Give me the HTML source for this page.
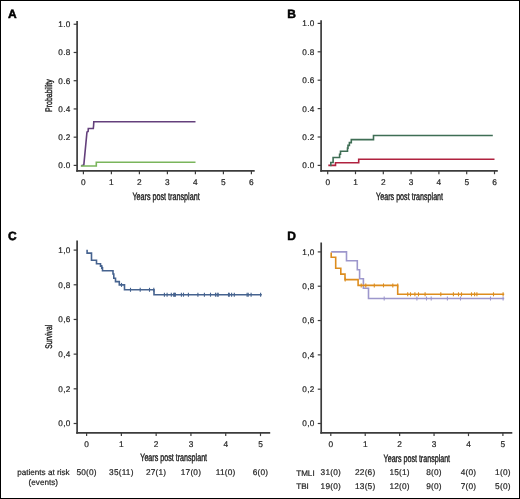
<!DOCTYPE html>
<html><head><meta charset="utf-8"><style>
html,body{margin:0;padding:0;background:#fff;width:520px;height:499px;overflow:hidden;font-family:"Liberation Sans", sans-serif;}
</style></head><body>
<svg width="520" height="499" viewBox="0 0 520 499" style="position:absolute;left:0;top:0;will-change:transform">
<g font-family='"Liberation Sans", sans-serif' text-rendering="geometricPrecision">
<rect x="0.5" y="0.5" width="519" height="498" fill="#fff" stroke="#000" stroke-width="1"/>
<text x="8.0" y="18.0" font-size="12" text-anchor="start" font-weight="bold" fill="#000" stroke="#000" stroke-width="0.5" >A</text>
<text x="287.2" y="17.9" font-size="12" text-anchor="start" font-weight="bold" fill="#000" stroke="#000" stroke-width="0.5" >B</text>
<text x="8.0" y="240.2" font-size="12" text-anchor="start" font-weight="bold" fill="#000" stroke="#000" stroke-width="0.5" >C</text>
<text x="287.2" y="239.8" font-size="12" text-anchor="start" font-weight="bold" fill="#000" stroke="#000" stroke-width="0.5" >D</text>
<line x1="77.1" y1="21.0" x2="77.1" y2="171.75" stroke="#3c3c3c" stroke-width="1.7" stroke-linecap="butt"/>
<line x1="76.25" y1="170.9" x2="254.7" y2="170.9" stroke="#3c3c3c" stroke-width="1.7" stroke-linecap="butt"/>
<line x1="73.65" y1="165.4" x2="77.1" y2="165.4" stroke="#3c3c3c" stroke-width="1.2" stroke-linecap="butt"/>
<text x="70.8" y="168.3" font-size="8.2" text-anchor="end" font-weight="normal" fill="#1e1e1e" stroke="#1e1e1e" stroke-width="0.2" letter-spacing="0.4">0.0</text>
<line x1="73.65" y1="137.17" x2="77.1" y2="137.17" stroke="#3c3c3c" stroke-width="1.2" stroke-linecap="butt"/>
<text x="70.8" y="140.07" font-size="8.2" text-anchor="end" font-weight="normal" fill="#1e1e1e" stroke="#1e1e1e" stroke-width="0.2" letter-spacing="0.4">0.2</text>
<line x1="73.65" y1="108.94" x2="77.1" y2="108.94" stroke="#3c3c3c" stroke-width="1.2" stroke-linecap="butt"/>
<text x="70.8" y="111.84" font-size="8.2" text-anchor="end" font-weight="normal" fill="#1e1e1e" stroke="#1e1e1e" stroke-width="0.2" letter-spacing="0.4">0.4</text>
<line x1="73.65" y1="80.71" x2="77.1" y2="80.71" stroke="#3c3c3c" stroke-width="1.2" stroke-linecap="butt"/>
<text x="70.8" y="83.61" font-size="8.2" text-anchor="end" font-weight="normal" fill="#1e1e1e" stroke="#1e1e1e" stroke-width="0.2" letter-spacing="0.4">0.6</text>
<line x1="73.65" y1="52.48" x2="77.1" y2="52.48" stroke="#3c3c3c" stroke-width="1.2" stroke-linecap="butt"/>
<text x="70.8" y="55.38" font-size="8.2" text-anchor="end" font-weight="normal" fill="#1e1e1e" stroke="#1e1e1e" stroke-width="0.2" letter-spacing="0.4">0.8</text>
<line x1="73.65" y1="24.25" x2="77.1" y2="24.25" stroke="#3c3c3c" stroke-width="1.2" stroke-linecap="butt"/>
<text x="70.8" y="27.15" font-size="8.2" text-anchor="end" font-weight="normal" fill="#1e1e1e" stroke="#1e1e1e" stroke-width="0.2" letter-spacing="0.4">1.0</text>
<line x1="83.4" y1="170.9" x2="83.4" y2="174.2" stroke="#3c3c3c" stroke-width="1.2" stroke-linecap="butt"/>
<text x="83.4" y="185.2" font-size="8.3" text-anchor="middle" font-weight="normal" fill="#1e1e1e" stroke="#1e1e1e" stroke-width="0.2" >0</text>
<line x1="111.4" y1="170.9" x2="111.4" y2="174.2" stroke="#3c3c3c" stroke-width="1.2" stroke-linecap="butt"/>
<text x="111.4" y="185.2" font-size="8.3" text-anchor="middle" font-weight="normal" fill="#1e1e1e" stroke="#1e1e1e" stroke-width="0.2" >1</text>
<line x1="139.4" y1="170.9" x2="139.4" y2="174.2" stroke="#3c3c3c" stroke-width="1.2" stroke-linecap="butt"/>
<text x="139.4" y="185.2" font-size="8.3" text-anchor="middle" font-weight="normal" fill="#1e1e1e" stroke="#1e1e1e" stroke-width="0.2" >2</text>
<line x1="167.4" y1="170.9" x2="167.4" y2="174.2" stroke="#3c3c3c" stroke-width="1.2" stroke-linecap="butt"/>
<text x="167.4" y="185.2" font-size="8.3" text-anchor="middle" font-weight="normal" fill="#1e1e1e" stroke="#1e1e1e" stroke-width="0.2" >3</text>
<line x1="195.4" y1="170.9" x2="195.4" y2="174.2" stroke="#3c3c3c" stroke-width="1.2" stroke-linecap="butt"/>
<text x="195.4" y="185.2" font-size="8.3" text-anchor="middle" font-weight="normal" fill="#1e1e1e" stroke="#1e1e1e" stroke-width="0.2" >4</text>
<line x1="223.4" y1="170.9" x2="223.4" y2="174.2" stroke="#3c3c3c" stroke-width="1.2" stroke-linecap="butt"/>
<text x="223.4" y="185.2" font-size="8.3" text-anchor="middle" font-weight="normal" fill="#1e1e1e" stroke="#1e1e1e" stroke-width="0.2" >5</text>
<line x1="251.4" y1="170.9" x2="251.4" y2="174.2" stroke="#3c3c3c" stroke-width="1.2" stroke-linecap="butt"/>
<text x="251.4" y="185.2" font-size="8.3" text-anchor="middle" font-weight="normal" fill="#1e1e1e" stroke="#1e1e1e" stroke-width="0.2" >6</text>
<line x1="321.1" y1="20.25" x2="321.1" y2="171.75" stroke="#3c3c3c" stroke-width="1.7" stroke-linecap="butt"/>
<line x1="320.25" y1="170.9" x2="497.8" y2="170.9" stroke="#3c3c3c" stroke-width="1.7" stroke-linecap="butt"/>
<line x1="317.65" y1="165.4" x2="321.1" y2="165.4" stroke="#3c3c3c" stroke-width="1.2" stroke-linecap="butt"/>
<text x="314.8" y="168.3" font-size="8.2" text-anchor="end" font-weight="normal" fill="#1e1e1e" stroke="#1e1e1e" stroke-width="0.2" letter-spacing="0.4">0.0</text>
<line x1="317.65" y1="137.0" x2="321.1" y2="137.0" stroke="#3c3c3c" stroke-width="1.2" stroke-linecap="butt"/>
<text x="314.8" y="139.9" font-size="8.2" text-anchor="end" font-weight="normal" fill="#1e1e1e" stroke="#1e1e1e" stroke-width="0.2" letter-spacing="0.4">0.2</text>
<line x1="317.65" y1="108.6" x2="321.1" y2="108.6" stroke="#3c3c3c" stroke-width="1.2" stroke-linecap="butt"/>
<text x="314.8" y="111.5" font-size="8.2" text-anchor="end" font-weight="normal" fill="#1e1e1e" stroke="#1e1e1e" stroke-width="0.2" letter-spacing="0.4">0.4</text>
<line x1="317.65" y1="80.2" x2="321.1" y2="80.2" stroke="#3c3c3c" stroke-width="1.2" stroke-linecap="butt"/>
<text x="314.8" y="83.1" font-size="8.2" text-anchor="end" font-weight="normal" fill="#1e1e1e" stroke="#1e1e1e" stroke-width="0.2" letter-spacing="0.4">0.6</text>
<line x1="317.65" y1="51.8" x2="321.1" y2="51.8" stroke="#3c3c3c" stroke-width="1.2" stroke-linecap="butt"/>
<text x="314.8" y="54.7" font-size="8.2" text-anchor="end" font-weight="normal" fill="#1e1e1e" stroke="#1e1e1e" stroke-width="0.2" letter-spacing="0.4">0.8</text>
<line x1="317.65" y1="23.4" x2="321.1" y2="23.4" stroke="#3c3c3c" stroke-width="1.2" stroke-linecap="butt"/>
<text x="314.8" y="26.3" font-size="8.2" text-anchor="end" font-weight="normal" fill="#1e1e1e" stroke="#1e1e1e" stroke-width="0.2" letter-spacing="0.4">1.0</text>
<line x1="327.7" y1="170.9" x2="327.7" y2="174.2" stroke="#3c3c3c" stroke-width="1.2" stroke-linecap="butt"/>
<text x="327.7" y="185.2" font-size="8.3" text-anchor="middle" font-weight="normal" fill="#1e1e1e" stroke="#1e1e1e" stroke-width="0.2" >0</text>
<line x1="355.5" y1="170.9" x2="355.5" y2="174.2" stroke="#3c3c3c" stroke-width="1.2" stroke-linecap="butt"/>
<text x="355.5" y="185.2" font-size="8.3" text-anchor="middle" font-weight="normal" fill="#1e1e1e" stroke="#1e1e1e" stroke-width="0.2" >1</text>
<line x1="383.3" y1="170.9" x2="383.3" y2="174.2" stroke="#3c3c3c" stroke-width="1.2" stroke-linecap="butt"/>
<text x="383.3" y="185.2" font-size="8.3" text-anchor="middle" font-weight="normal" fill="#1e1e1e" stroke="#1e1e1e" stroke-width="0.2" >2</text>
<line x1="411.1" y1="170.9" x2="411.1" y2="174.2" stroke="#3c3c3c" stroke-width="1.2" stroke-linecap="butt"/>
<text x="411.1" y="185.2" font-size="8.3" text-anchor="middle" font-weight="normal" fill="#1e1e1e" stroke="#1e1e1e" stroke-width="0.2" >3</text>
<line x1="438.9" y1="170.9" x2="438.9" y2="174.2" stroke="#3c3c3c" stroke-width="1.2" stroke-linecap="butt"/>
<text x="438.9" y="185.2" font-size="8.3" text-anchor="middle" font-weight="normal" fill="#1e1e1e" stroke="#1e1e1e" stroke-width="0.2" >4</text>
<line x1="466.7" y1="170.9" x2="466.7" y2="174.2" stroke="#3c3c3c" stroke-width="1.2" stroke-linecap="butt"/>
<text x="466.7" y="185.2" font-size="8.3" text-anchor="middle" font-weight="normal" fill="#1e1e1e" stroke="#1e1e1e" stroke-width="0.2" >5</text>
<line x1="494.5" y1="170.9" x2="494.5" y2="174.2" stroke="#3c3c3c" stroke-width="1.2" stroke-linecap="butt"/>
<text x="494.5" y="185.2" font-size="8.3" text-anchor="middle" font-weight="normal" fill="#1e1e1e" stroke="#1e1e1e" stroke-width="0.2" >6</text>
<line x1="77.1" y1="240.6" x2="77.1" y2="433.65" stroke="#3c3c3c" stroke-width="1.7" stroke-linecap="butt"/>
<line x1="76.25" y1="432.8" x2="270.2" y2="432.8" stroke="#3c3c3c" stroke-width="1.7" stroke-linecap="butt"/>
<line x1="73.65" y1="423.5" x2="77.1" y2="423.5" stroke="#3c3c3c" stroke-width="1.2" stroke-linecap="butt"/>
<text x="70.8" y="426.4" font-size="8.2" text-anchor="end" font-weight="normal" fill="#1e1e1e" stroke="#1e1e1e" stroke-width="0.2" letter-spacing="0.4">0,0</text>
<line x1="73.65" y1="388.82" x2="77.1" y2="388.82" stroke="#3c3c3c" stroke-width="1.2" stroke-linecap="butt"/>
<text x="70.8" y="391.72" font-size="8.2" text-anchor="end" font-weight="normal" fill="#1e1e1e" stroke="#1e1e1e" stroke-width="0.2" letter-spacing="0.4">0,2</text>
<line x1="73.65" y1="354.14" x2="77.1" y2="354.14" stroke="#3c3c3c" stroke-width="1.2" stroke-linecap="butt"/>
<text x="70.8" y="357.04" font-size="8.2" text-anchor="end" font-weight="normal" fill="#1e1e1e" stroke="#1e1e1e" stroke-width="0.2" letter-spacing="0.4">0,4</text>
<line x1="73.65" y1="319.46" x2="77.1" y2="319.46" stroke="#3c3c3c" stroke-width="1.2" stroke-linecap="butt"/>
<text x="70.8" y="322.36" font-size="8.2" text-anchor="end" font-weight="normal" fill="#1e1e1e" stroke="#1e1e1e" stroke-width="0.2" letter-spacing="0.4">0,6</text>
<line x1="73.65" y1="284.78" x2="77.1" y2="284.78" stroke="#3c3c3c" stroke-width="1.2" stroke-linecap="butt"/>
<text x="70.8" y="287.68" font-size="8.2" text-anchor="end" font-weight="normal" fill="#1e1e1e" stroke="#1e1e1e" stroke-width="0.2" letter-spacing="0.4">0,8</text>
<line x1="73.65" y1="250.1" x2="77.1" y2="250.1" stroke="#3c3c3c" stroke-width="1.2" stroke-linecap="butt"/>
<text x="70.8" y="253.0" font-size="8.2" text-anchor="end" font-weight="normal" fill="#1e1e1e" stroke="#1e1e1e" stroke-width="0.2" letter-spacing="0.4">1,0</text>
<line x1="86.6" y1="432.8" x2="86.6" y2="436.1" stroke="#3c3c3c" stroke-width="1.2" stroke-linecap="butt"/>
<text x="86.6" y="447.0" font-size="8.3" text-anchor="middle" font-weight="normal" fill="#1e1e1e" stroke="#1e1e1e" stroke-width="0.2" >0</text>
<line x1="121.38" y1="432.8" x2="121.38" y2="436.1" stroke="#3c3c3c" stroke-width="1.2" stroke-linecap="butt"/>
<text x="121.38" y="447.0" font-size="8.3" text-anchor="middle" font-weight="normal" fill="#1e1e1e" stroke="#1e1e1e" stroke-width="0.2" >1</text>
<line x1="156.16" y1="432.8" x2="156.16" y2="436.1" stroke="#3c3c3c" stroke-width="1.2" stroke-linecap="butt"/>
<text x="156.16" y="447.0" font-size="8.3" text-anchor="middle" font-weight="normal" fill="#1e1e1e" stroke="#1e1e1e" stroke-width="0.2" >2</text>
<line x1="190.94" y1="432.8" x2="190.94" y2="436.1" stroke="#3c3c3c" stroke-width="1.2" stroke-linecap="butt"/>
<text x="190.94" y="447.0" font-size="8.3" text-anchor="middle" font-weight="normal" fill="#1e1e1e" stroke="#1e1e1e" stroke-width="0.2" >3</text>
<line x1="225.72" y1="432.8" x2="225.72" y2="436.1" stroke="#3c3c3c" stroke-width="1.2" stroke-linecap="butt"/>
<text x="225.72" y="447.0" font-size="8.3" text-anchor="middle" font-weight="normal" fill="#1e1e1e" stroke="#1e1e1e" stroke-width="0.2" >4</text>
<line x1="260.5" y1="432.8" x2="260.5" y2="436.1" stroke="#3c3c3c" stroke-width="1.2" stroke-linecap="butt"/>
<text x="260.5" y="447.0" font-size="8.3" text-anchor="middle" font-weight="normal" fill="#1e1e1e" stroke="#1e1e1e" stroke-width="0.2" >5</text>
<line x1="321.2" y1="242.5" x2="321.2" y2="433.65" stroke="#3c3c3c" stroke-width="1.7" stroke-linecap="butt"/>
<line x1="320.35" y1="432.8" x2="512.3" y2="432.8" stroke="#3c3c3c" stroke-width="1.7" stroke-linecap="butt"/>
<line x1="317.75" y1="423.5" x2="321.2" y2="423.5" stroke="#3c3c3c" stroke-width="1.2" stroke-linecap="butt"/>
<text x="314.8" y="426.4" font-size="8.2" text-anchor="end" font-weight="normal" fill="#1e1e1e" stroke="#1e1e1e" stroke-width="0.2" letter-spacing="0.4">0,0</text>
<line x1="317.75" y1="389.18" x2="321.2" y2="389.18" stroke="#3c3c3c" stroke-width="1.2" stroke-linecap="butt"/>
<text x="314.8" y="392.08" font-size="8.2" text-anchor="end" font-weight="normal" fill="#1e1e1e" stroke="#1e1e1e" stroke-width="0.2" letter-spacing="0.4">0,2</text>
<line x1="317.75" y1="354.86" x2="321.2" y2="354.86" stroke="#3c3c3c" stroke-width="1.2" stroke-linecap="butt"/>
<text x="314.8" y="357.76" font-size="8.2" text-anchor="end" font-weight="normal" fill="#1e1e1e" stroke="#1e1e1e" stroke-width="0.2" letter-spacing="0.4">0,4</text>
<line x1="317.75" y1="320.54" x2="321.2" y2="320.54" stroke="#3c3c3c" stroke-width="1.2" stroke-linecap="butt"/>
<text x="314.8" y="323.44" font-size="8.2" text-anchor="end" font-weight="normal" fill="#1e1e1e" stroke="#1e1e1e" stroke-width="0.2" letter-spacing="0.4">0,6</text>
<line x1="317.75" y1="286.22" x2="321.2" y2="286.22" stroke="#3c3c3c" stroke-width="1.2" stroke-linecap="butt"/>
<text x="314.8" y="289.12" font-size="8.2" text-anchor="end" font-weight="normal" fill="#1e1e1e" stroke="#1e1e1e" stroke-width="0.2" letter-spacing="0.4">0,8</text>
<line x1="317.75" y1="251.9" x2="321.2" y2="251.9" stroke="#3c3c3c" stroke-width="1.2" stroke-linecap="butt"/>
<text x="314.8" y="254.8" font-size="8.2" text-anchor="end" font-weight="normal" fill="#1e1e1e" stroke="#1e1e1e" stroke-width="0.2" letter-spacing="0.4">1,0</text>
<line x1="330.8" y1="432.8" x2="330.8" y2="436.1" stroke="#3c3c3c" stroke-width="1.2" stroke-linecap="butt"/>
<text x="330.8" y="447.0" font-size="8.3" text-anchor="middle" font-weight="normal" fill="#1e1e1e" stroke="#1e1e1e" stroke-width="0.2" >0</text>
<line x1="365.22" y1="432.8" x2="365.22" y2="436.1" stroke="#3c3c3c" stroke-width="1.2" stroke-linecap="butt"/>
<text x="365.22" y="447.0" font-size="8.3" text-anchor="middle" font-weight="normal" fill="#1e1e1e" stroke="#1e1e1e" stroke-width="0.2" >1</text>
<line x1="399.64" y1="432.8" x2="399.64" y2="436.1" stroke="#3c3c3c" stroke-width="1.2" stroke-linecap="butt"/>
<text x="399.64" y="447.0" font-size="8.3" text-anchor="middle" font-weight="normal" fill="#1e1e1e" stroke="#1e1e1e" stroke-width="0.2" >2</text>
<line x1="434.06" y1="432.8" x2="434.06" y2="436.1" stroke="#3c3c3c" stroke-width="1.2" stroke-linecap="butt"/>
<text x="434.06" y="447.0" font-size="8.3" text-anchor="middle" font-weight="normal" fill="#1e1e1e" stroke="#1e1e1e" stroke-width="0.2" >3</text>
<line x1="468.48" y1="432.8" x2="468.48" y2="436.1" stroke="#3c3c3c" stroke-width="1.2" stroke-linecap="butt"/>
<text x="468.48" y="447.0" font-size="8.3" text-anchor="middle" font-weight="normal" fill="#1e1e1e" stroke="#1e1e1e" stroke-width="0.2" >4</text>
<line x1="502.9" y1="432.8" x2="502.9" y2="436.1" stroke="#3c3c3c" stroke-width="1.2" stroke-linecap="butt"/>
<text x="502.9" y="447.0" font-size="8.3" text-anchor="middle" font-weight="normal" fill="#1e1e1e" stroke="#1e1e1e" stroke-width="0.2" >5</text>
<text x="132.4" y="199.5" font-size="10.6" fill="#1e1e1e" stroke="#1e1e1e" stroke-width="0.4" textLength="67.3" lengthAdjust="spacingAndGlyphs">Years post transplant</text>
<text x="376.1" y="199.6" font-size="10.6" fill="#1e1e1e" stroke="#1e1e1e" stroke-width="0.4" textLength="67.0" lengthAdjust="spacingAndGlyphs">Years post transplant</text>
<text x="140.3" y="461.3" font-size="10.6" fill="#1e1e1e" stroke="#1e1e1e" stroke-width="0.4" textLength="66.8" lengthAdjust="spacingAndGlyphs">Years post transplant</text>
<text x="383.6" y="461.5" font-size="10.6" fill="#1e1e1e" stroke="#1e1e1e" stroke-width="0.4" textLength="66.5" lengthAdjust="spacingAndGlyphs">Years post transplant</text>
<text transform="translate(51.7,111.9) rotate(-90)" x="0" y="0" font-size="9.6" fill="#1e1e1e" stroke="#1e1e1e" stroke-width="0.4" textLength="32.6" lengthAdjust="spacingAndGlyphs">Probability</text>
<text transform="translate(52.1,348.7) rotate(-90)" x="0" y="0" font-size="9.6" fill="#1e1e1e" stroke="#1e1e1e" stroke-width="0.4" textLength="23.9" lengthAdjust="spacingAndGlyphs">Survival</text>
<polyline points="81.20,165.80 83.80,165.10 86.70,134.80 87.00,132.00 88.10,131.50 88.30,128.50 93.30,128.50 93.60,125.50 93.80,121.80 195.50,121.80" fill="none" stroke="#64407c" stroke-width="1.6" stroke-linejoin="miter" stroke-linecap="butt"/>
<polyline points="80.80,166.00 96.30,166.00 96.30,162.20 195.50,162.20" fill="none" stroke="#7ab55c" stroke-width="1.6" stroke-linejoin="miter" stroke-linecap="butt"/>
<polyline points="328.30,165.40 335.50,165.40 335.50,162.70 358.70,162.70 358.70,159.20 494.50,159.20" fill="none" stroke="#b0223f" stroke-width="1.6" stroke-linejoin="miter" stroke-linecap="butt"/>
<polyline points="330.20,165.40 330.80,165.40 330.80,162.50 333.10,162.50 333.10,157.50 339.60,157.50 339.60,154.30 340.50,154.30 340.50,151.20 347.50,151.20 347.50,148.10 348.00,148.10 348.00,145.40 349.40,145.40 349.40,142.60 351.30,142.60 351.30,139.60 373.50,139.60 373.50,135.50 492.80,135.50" fill="none" stroke="#3f6e55" stroke-width="1.6" stroke-linejoin="miter" stroke-linecap="butt"/>
<polyline points="87.10,249.80 87.10,253.10 91.50,253.10 91.50,260.30 96.50,260.30 96.50,263.70 100.50,263.70 100.50,266.10 101.80,266.10 101.80,267.90 102.50,267.90 102.50,270.80 113.00,270.80 113.00,274.00 113.80,274.00 113.80,278.20 115.50,278.20 115.50,281.60 119.30,281.60 119.30,284.90 124.50,284.90 124.50,289.80 154.00,289.80 154.00,294.70 261.80,294.70" fill="none" stroke="#46638f" stroke-width="1.6" stroke-linejoin="miter" stroke-linecap="butt"/>
<line x1="101.5" y1="265.0" x2="101.5" y2="269.0" stroke="#46638f" stroke-width="1.1" stroke-linecap="butt"/>
<line x1="121.5" y1="282.9" x2="121.5" y2="286.9" stroke="#46638f" stroke-width="1.1" stroke-linecap="butt"/>
<line x1="130.5" y1="287.8" x2="130.5" y2="291.8" stroke="#46638f" stroke-width="1.1" stroke-linecap="butt"/>
<line x1="140.2" y1="287.8" x2="140.2" y2="291.8" stroke="#46638f" stroke-width="1.1" stroke-linecap="butt"/>
<line x1="149.5" y1="287.8" x2="149.5" y2="291.8" stroke="#46638f" stroke-width="1.1" stroke-linecap="butt"/>
<line x1="153.8" y1="287.8" x2="153.8" y2="291.8" stroke="#46638f" stroke-width="1.1" stroke-linecap="butt"/>
<line x1="164.4" y1="292.7" x2="164.4" y2="296.7" stroke="#46638f" stroke-width="1.1" stroke-linecap="butt"/>
<line x1="167.1" y1="292.7" x2="167.1" y2="296.7" stroke="#46638f" stroke-width="1.1" stroke-linecap="butt"/>
<line x1="171.3" y1="292.7" x2="171.3" y2="296.7" stroke="#46638f" stroke-width="1.1" stroke-linecap="butt"/>
<line x1="173.7" y1="292.7" x2="173.7" y2="296.7" stroke="#46638f" stroke-width="1.1" stroke-linecap="butt"/>
<line x1="174.5" y1="292.7" x2="174.5" y2="296.7" stroke="#46638f" stroke-width="1.1" stroke-linecap="butt"/>
<line x1="175.4" y1="292.7" x2="175.4" y2="296.7" stroke="#46638f" stroke-width="1.1" stroke-linecap="butt"/>
<line x1="181.4" y1="292.7" x2="181.4" y2="296.7" stroke="#46638f" stroke-width="1.1" stroke-linecap="butt"/>
<line x1="183.5" y1="292.7" x2="183.5" y2="296.7" stroke="#46638f" stroke-width="1.1" stroke-linecap="butt"/>
<line x1="188.4" y1="292.7" x2="188.4" y2="296.7" stroke="#46638f" stroke-width="1.1" stroke-linecap="butt"/>
<line x1="197.9" y1="292.7" x2="197.9" y2="296.7" stroke="#46638f" stroke-width="1.1" stroke-linecap="butt"/>
<line x1="204.4" y1="292.7" x2="204.4" y2="296.7" stroke="#46638f" stroke-width="1.1" stroke-linecap="butt"/>
<line x1="210.5" y1="292.7" x2="210.5" y2="296.7" stroke="#46638f" stroke-width="1.1" stroke-linecap="butt"/>
<line x1="215.5" y1="292.7" x2="215.5" y2="296.7" stroke="#46638f" stroke-width="1.1" stroke-linecap="butt"/>
<line x1="217.2" y1="292.7" x2="217.2" y2="296.7" stroke="#46638f" stroke-width="1.1" stroke-linecap="butt"/>
<line x1="218.2" y1="292.7" x2="218.2" y2="296.7" stroke="#46638f" stroke-width="1.1" stroke-linecap="butt"/>
<line x1="228.5" y1="292.7" x2="228.5" y2="296.7" stroke="#46638f" stroke-width="1.1" stroke-linecap="butt"/>
<line x1="229.3" y1="292.7" x2="229.3" y2="296.7" stroke="#46638f" stroke-width="1.1" stroke-linecap="butt"/>
<line x1="231.6" y1="292.7" x2="231.6" y2="296.7" stroke="#46638f" stroke-width="1.1" stroke-linecap="butt"/>
<line x1="234.3" y1="292.7" x2="234.3" y2="296.7" stroke="#46638f" stroke-width="1.1" stroke-linecap="butt"/>
<line x1="247.1" y1="292.7" x2="247.1" y2="296.7" stroke="#46638f" stroke-width="1.1" stroke-linecap="butt"/>
<line x1="248.2" y1="292.7" x2="248.2" y2="296.7" stroke="#46638f" stroke-width="1.1" stroke-linecap="butt"/>
<line x1="251.1" y1="292.7" x2="251.1" y2="296.7" stroke="#46638f" stroke-width="1.1" stroke-linecap="butt"/>
<line x1="260.6" y1="292.7" x2="260.6" y2="296.7" stroke="#46638f" stroke-width="1.1" stroke-linecap="butt"/>
<polyline points="331.20,251.90 346.50,251.90 346.50,260.80 357.30,260.80 357.30,269.80 359.60,269.80 359.60,278.70 363.40,278.70 363.40,288.20 368.50,288.20 368.50,298.50 504.20,298.50" fill="none" stroke="#9d97cc" stroke-width="1.6" stroke-linejoin="miter" stroke-linecap="butt"/>
<line x1="384.2" y1="296.5" x2="384.2" y2="300.5" stroke="#9d97cc" stroke-width="1.1" stroke-linecap="butt"/>
<line x1="416.9" y1="296.5" x2="416.9" y2="300.5" stroke="#9d97cc" stroke-width="1.1" stroke-linecap="butt"/>
<line x1="426.5" y1="296.5" x2="426.5" y2="300.5" stroke="#9d97cc" stroke-width="1.1" stroke-linecap="butt"/>
<line x1="431.2" y1="296.5" x2="431.2" y2="300.5" stroke="#9d97cc" stroke-width="1.1" stroke-linecap="butt"/>
<line x1="447.4" y1="296.5" x2="447.4" y2="300.5" stroke="#9d97cc" stroke-width="1.1" stroke-linecap="butt"/>
<line x1="460.5" y1="296.5" x2="460.5" y2="300.5" stroke="#9d97cc" stroke-width="1.1" stroke-linecap="butt"/>
<line x1="490.5" y1="296.5" x2="490.5" y2="300.5" stroke="#9d97cc" stroke-width="1.1" stroke-linecap="butt"/>
<line x1="503.1" y1="296.5" x2="503.1" y2="300.5" stroke="#9d97cc" stroke-width="1.1" stroke-linecap="butt"/>
<polyline points="331.20,252.50 331.20,257.30 335.70,257.30 335.70,268.20 340.80,268.20 340.80,274.10 345.00,274.10 345.00,279.60 358.10,279.60 358.10,285.40 397.70,285.40 397.70,294.30 504.20,294.30" fill="none" stroke="#dd8d1e" stroke-width="1.6" stroke-linejoin="miter" stroke-linecap="butt"/>
<line x1="345.2" y1="277.6" x2="345.2" y2="281.6" stroke="#dd8d1e" stroke-width="1.1" stroke-linecap="butt"/>
<line x1="361.2" y1="283.4" x2="361.2" y2="287.4" stroke="#dd8d1e" stroke-width="1.1" stroke-linecap="butt"/>
<line x1="365.8" y1="283.4" x2="365.8" y2="287.4" stroke="#dd8d1e" stroke-width="1.1" stroke-linecap="butt"/>
<line x1="374.3" y1="283.4" x2="374.3" y2="287.4" stroke="#dd8d1e" stroke-width="1.1" stroke-linecap="butt"/>
<line x1="383.5" y1="283.4" x2="383.5" y2="287.4" stroke="#dd8d1e" stroke-width="1.1" stroke-linecap="butt"/>
<line x1="392.8" y1="283.4" x2="392.8" y2="287.4" stroke="#dd8d1e" stroke-width="1.1" stroke-linecap="butt"/>
<line x1="397.7" y1="283.4" x2="397.7" y2="287.4" stroke="#dd8d1e" stroke-width="1.1" stroke-linecap="butt"/>
<line x1="407.7" y1="292.3" x2="407.7" y2="296.3" stroke="#dd8d1e" stroke-width="1.1" stroke-linecap="butt"/>
<line x1="410.5" y1="292.3" x2="410.5" y2="296.3" stroke="#dd8d1e" stroke-width="1.1" stroke-linecap="butt"/>
<line x1="414.9" y1="292.3" x2="414.9" y2="296.3" stroke="#dd8d1e" stroke-width="1.1" stroke-linecap="butt"/>
<line x1="418.5" y1="292.3" x2="418.5" y2="296.3" stroke="#dd8d1e" stroke-width="1.1" stroke-linecap="butt"/>
<line x1="425.1" y1="292.3" x2="425.1" y2="296.3" stroke="#dd8d1e" stroke-width="1.1" stroke-linecap="butt"/>
<line x1="440.8" y1="292.3" x2="440.8" y2="296.3" stroke="#dd8d1e" stroke-width="1.1" stroke-linecap="butt"/>
<line x1="453.4" y1="292.3" x2="453.4" y2="296.3" stroke="#dd8d1e" stroke-width="1.1" stroke-linecap="butt"/>
<line x1="458.5" y1="292.3" x2="458.5" y2="296.3" stroke="#dd8d1e" stroke-width="1.1" stroke-linecap="butt"/>
<line x1="461.5" y1="292.3" x2="461.5" y2="296.3" stroke="#dd8d1e" stroke-width="1.1" stroke-linecap="butt"/>
<line x1="471.5" y1="292.3" x2="471.5" y2="296.3" stroke="#dd8d1e" stroke-width="1.1" stroke-linecap="butt"/>
<line x1="474.6" y1="292.3" x2="474.6" y2="296.3" stroke="#dd8d1e" stroke-width="1.1" stroke-linecap="butt"/>
<line x1="476.9" y1="292.3" x2="476.9" y2="296.3" stroke="#dd8d1e" stroke-width="1.1" stroke-linecap="butt"/>
<line x1="493.5" y1="292.3" x2="493.5" y2="296.3" stroke="#dd8d1e" stroke-width="1.1" stroke-linecap="butt"/>
<line x1="503.1" y1="292.3" x2="503.1" y2="296.3" stroke="#dd8d1e" stroke-width="1.1" stroke-linecap="butt"/>
<text x="69.6" y="475.0" font-size="8.15" text-anchor="end" font-weight="normal" fill="#1e1e1e" stroke="#1e1e1e" stroke-width="0.2" >patients at risk</text>
<text x="43.3" y="485.4" font-size="8.15" text-anchor="middle" font-weight="normal" fill="#1e1e1e" stroke="#1e1e1e" stroke-width="0.2" >(events)</text>
<text x="86.6" y="475.0" font-size="8.3" text-anchor="middle" font-weight="normal" fill="#1e1e1e" stroke="#1e1e1e" stroke-width="0.2" letter-spacing="0.2">50(0)</text>
<text x="121.38" y="475.0" font-size="8.3" text-anchor="middle" font-weight="normal" fill="#1e1e1e" stroke="#1e1e1e" stroke-width="0.2" letter-spacing="0.2">35(11)</text>
<text x="156.16" y="475.0" font-size="8.3" text-anchor="middle" font-weight="normal" fill="#1e1e1e" stroke="#1e1e1e" stroke-width="0.2" letter-spacing="0.2">27(1)</text>
<text x="190.94" y="475.0" font-size="8.3" text-anchor="middle" font-weight="normal" fill="#1e1e1e" stroke="#1e1e1e" stroke-width="0.2" letter-spacing="0.2">17(0)</text>
<text x="225.72" y="475.0" font-size="8.3" text-anchor="middle" font-weight="normal" fill="#1e1e1e" stroke="#1e1e1e" stroke-width="0.2" letter-spacing="0.2">11(0)</text>
<text x="260.5" y="475.0" font-size="8.3" text-anchor="middle" font-weight="normal" fill="#1e1e1e" stroke="#1e1e1e" stroke-width="0.2" letter-spacing="0.2">6(0)</text>
<text x="296.2" y="475.6" font-size="8.1" text-anchor="start" font-weight="normal" fill="#1e1e1e" stroke="#1e1e1e" stroke-width="0.2" >TMLI</text>
<text x="296.2" y="488.8" font-size="8.1" text-anchor="start" font-weight="normal" fill="#1e1e1e" stroke="#1e1e1e" stroke-width="0.2" >TBI</text>
<text x="330.8" y="475.4" font-size="8.3" text-anchor="middle" font-weight="normal" fill="#1e1e1e" stroke="#1e1e1e" stroke-width="0.2" letter-spacing="0.2">31(0)</text>
<text x="365.22" y="475.4" font-size="8.3" text-anchor="middle" font-weight="normal" fill="#1e1e1e" stroke="#1e1e1e" stroke-width="0.2" letter-spacing="0.2">22(6)</text>
<text x="399.64" y="475.4" font-size="8.3" text-anchor="middle" font-weight="normal" fill="#1e1e1e" stroke="#1e1e1e" stroke-width="0.2" letter-spacing="0.2">15(1)</text>
<text x="434.06" y="475.4" font-size="8.3" text-anchor="middle" font-weight="normal" fill="#1e1e1e" stroke="#1e1e1e" stroke-width="0.2" letter-spacing="0.2">8(0)</text>
<text x="468.48" y="475.4" font-size="8.3" text-anchor="middle" font-weight="normal" fill="#1e1e1e" stroke="#1e1e1e" stroke-width="0.2" letter-spacing="0.2">4(0)</text>
<text x="502.9" y="475.4" font-size="8.3" text-anchor="middle" font-weight="normal" fill="#1e1e1e" stroke="#1e1e1e" stroke-width="0.2" letter-spacing="0.2">1(0)</text>
<text x="330.8" y="488.6" font-size="8.3" text-anchor="middle" font-weight="normal" fill="#1e1e1e" stroke="#1e1e1e" stroke-width="0.2" letter-spacing="0.2">19(0)</text>
<text x="365.22" y="488.6" font-size="8.3" text-anchor="middle" font-weight="normal" fill="#1e1e1e" stroke="#1e1e1e" stroke-width="0.2" letter-spacing="0.2">13(5)</text>
<text x="399.64" y="488.6" font-size="8.3" text-anchor="middle" font-weight="normal" fill="#1e1e1e" stroke="#1e1e1e" stroke-width="0.2" letter-spacing="0.2">12(0)</text>
<text x="434.06" y="488.6" font-size="8.3" text-anchor="middle" font-weight="normal" fill="#1e1e1e" stroke="#1e1e1e" stroke-width="0.2" letter-spacing="0.2">9(0)</text>
<text x="468.48" y="488.6" font-size="8.3" text-anchor="middle" font-weight="normal" fill="#1e1e1e" stroke="#1e1e1e" stroke-width="0.2" letter-spacing="0.2">7(0)</text>
<text x="502.9" y="488.6" font-size="8.3" text-anchor="middle" font-weight="normal" fill="#1e1e1e" stroke="#1e1e1e" stroke-width="0.2" letter-spacing="0.2">5(0)</text>
</g></svg>
</body></html>
